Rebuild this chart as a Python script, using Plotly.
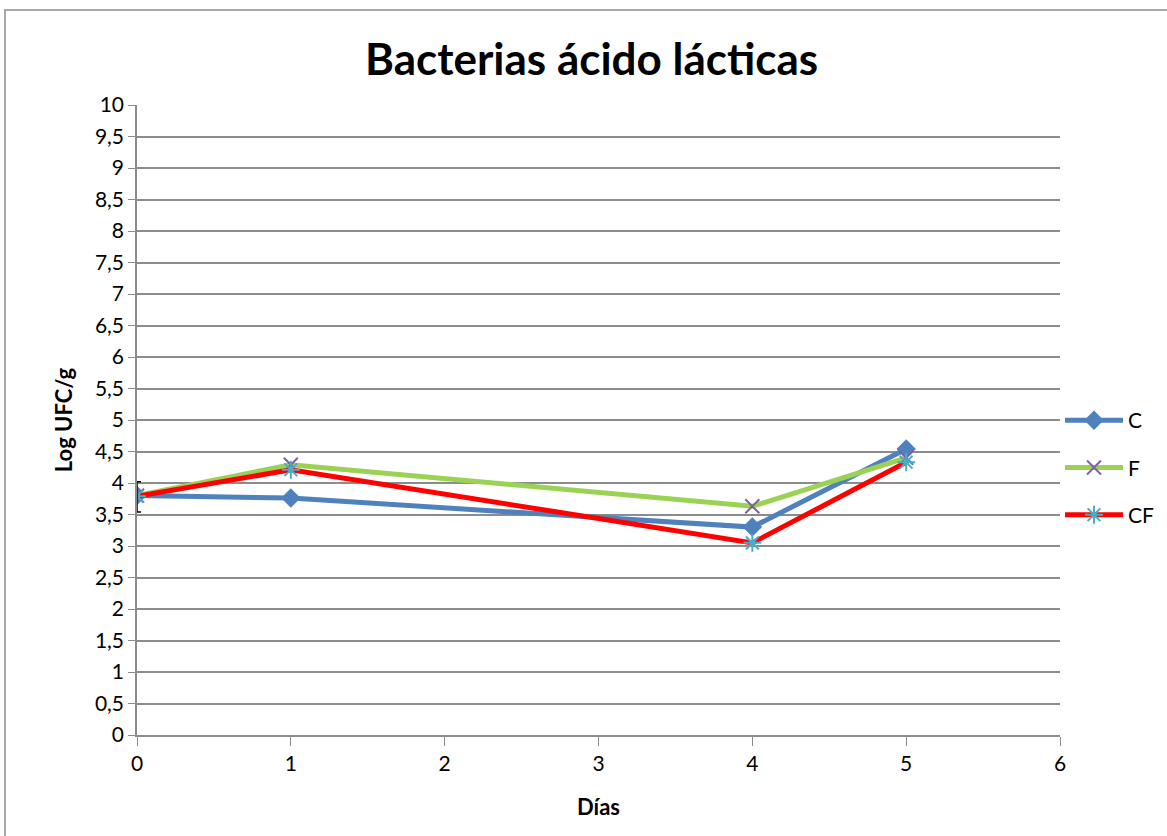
import plotly.graph_objects as go

# Days of sampling and log counts per treatment
dias = [0, 1, 4, 5]
serie_c = [3.80, 3.76, 3.30, 4.54]
serie_f = [3.80, 4.29, 3.63, 4.40]
serie_cf = [3.79, 4.21, 3.05, 4.33]

# Dispersion shown on the first sampling day
err_x = [0]
err_y = [3.78]
err_val = [0.24]

fig = go.Figure()

fig.add_trace(go.Scatter(
    x=dias, y=serie_c, name="C", mode="lines+markers", legendgroup="c",
    line=dict(color="#4F81BD", width=5),
    marker=dict(symbol="diamond", size=15, color="#4F81BD"),
))
fig.add_trace(go.Scatter(
    x=dias, y=serie_f, name="F", mode="lines+markers", legendgroup="f",
    line=dict(color="#9BD255", width=5),
    marker=dict(symbol="x-thin", size=14, line=dict(color="#7F60A8", width=2)),
))
fig.add_trace(go.Scatter(
    x=dias, y=serie_cf, name="CF", mode="lines+markers", legendgroup="cf",
    line=dict(color="#FF0000", width=5),
    marker=dict(symbol="asterisk", size=15, line=dict(color="#4BACC6", width=2)),
))
fig.add_trace(go.Scatter(
    x=err_x, y=err_y, mode="markers", showlegend=False, hoverinfo="skip",
    marker=dict(size=1, color="rgba(0,0,0,0)"),
    error_y=dict(type="data", array=err_val, color="black", thickness=1.5, width=4),
))

grid = "#8C8C8C"
fig.update_layout(
    width=1167, height=836,
    margin=dict(l=137, r=107, t=105, b=101, autoexpand=False),
    paper_bgcolor="white", plot_bgcolor="white",
    separators=",.",
    font=dict(family="Lato, 'Open Sans', sans-serif", color="black", size=21),
    title=dict(text="<b>Bacterias ácido lácticas</b>", x=0.507, xanchor="center",
               y=1 - 60 / 836, yanchor="middle",
               font=dict(size=44, family="Lato, 'Open Sans', sans-serif")),
    xaxis=dict(range=[0, 6], dtick=1, showgrid=False, zeroline=False,
               showline=True, linecolor=grid, linewidth=1.5,
               ticks="outside", ticklen=9, tickcolor=grid,
               title=dict(text="<b>Días</b>", font=dict(size=22), standoff=26)),
    yaxis=dict(range=[0, 10], dtick=0.5, showgrid=True, gridcolor=grid, gridwidth=1.5,
               zeroline=False, showline=True, linecolor=grid, linewidth=1.5,
               ticks="outside", ticklen=7, tickcolor=grid,
               title=dict(text="<b>Log UFC/g</b>", font=dict(size=22), standoff=16)),
    legend=dict(xref="container", yref="container",
                x=1060 / 1167, y=1 - 400 / 836, xanchor="left", yanchor="top",
                font=dict(size=21), traceorder="grouped", tracegroupgap=17,
                itemwidth=58, bgcolor="rgba(0,0,0,0)"),
    # chart-area frame; its right and bottom edges run past the page
    shapes=[dict(type="rect", xref="paper", yref="paper",
                 x0=(5 - 137) / 923, x1=(1180 - 137) / 923,
                 y0=(735 - 845) / 630, y1=(735 - 10) / 630,
                 line=dict(color="#8C8C8C", width=1.5), layer="below")],
)

fig.write_html("out.html")
